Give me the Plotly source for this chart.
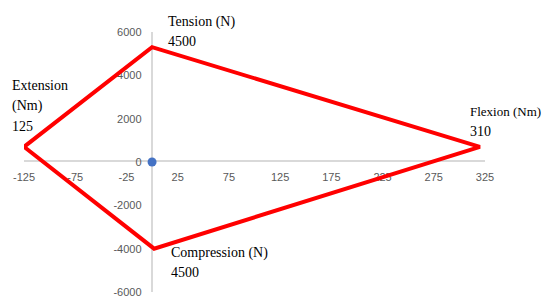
import plotly.graph_objects as go

# Polygon vertices (Extension, Tension, Flexion, Compression, close)
poly_x = [-125, 0, 320, 2, -125]
poly_y = [700, 5300, 700, -4000, 700]

origin_x = [0]
origin_y = [0]

x_ticks = [-125, -75, -25, 25, 75, 125, 175, 225, 275, 325]
y_ticks = [-6000, -4000, -2000, 0, 2000, 4000, 6000]

# text, paper x, paper y, font size
labels = [
    ("Tension (N)", 0.308, 1.040, 14),
    ("4500", 0.308, 0.963, 14),
    ("Extension", -0.0304, 0.796, 14),
    ("(Nm)", -0.0304, 0.715, 14),
    ("125", -0.0304, 0.638, 14),
    ("Flexion (Nm)", 0.9625, 0.6935, 13),
    ("310", 0.9625, 0.6165, 14),
    ("Compression (N)", 0.315, 0.150, 14),
    ("4500", 0.315, 0.074, 14),
]

fig = go.Figure()
fig.add_trace(go.Scatter(x=poly_x, y=poly_y, mode="lines",
                         line=dict(color="#ff0000", width=4), hoverinfo="skip"))
fig.add_trace(go.Scatter(x=origin_x, y=origin_y, mode="markers",
                         marker=dict(color="#4472C4", size=9)))

for txt, x, y, fs in labels:
    fig.add_annotation(x=x, y=y, text=txt, showarrow=False, xanchor="left",
                       yanchor="middle", xref="paper", yref="paper",
                       font=dict(family="Liberation Serif", size=fs, color="#000000"))

tickfont = dict(family="Liberation Sans", size=11, color="#595959")
fig.update_layout(
    width=550, height=304,
    margin=dict(l=16, r=73, t=24, b=20),
    paper_bgcolor="white", plot_bgcolor="white",
    showlegend=False,
    xaxis=dict(range=[-125, 325], tickvals=x_ticks,
               ticktext=[str(v) for v in x_ticks],
               showgrid=False, zeroline=False, automargin=False,
               showline=True, linecolor="#d9d9d9", linewidth=1.5,
               anchor="free", position=0.502, ticks="", ticklabelstandoff=6,
               layer="below traces", tickfont=tickfont),
    yaxis=dict(range=[-6000, 6000], tickvals=y_ticks,
               ticktext=[str(v) for v in y_ticks],
               showgrid=False, zeroline=False, automargin=False,
               showline=True, linecolor="#d9d9d9", linewidth=1.5,
               anchor="free", position=0.2787, ticks="", ticklabelstandoff=8,
               layer="below traces", tickfont=tickfont),
)

fig.write_html("out.html")
